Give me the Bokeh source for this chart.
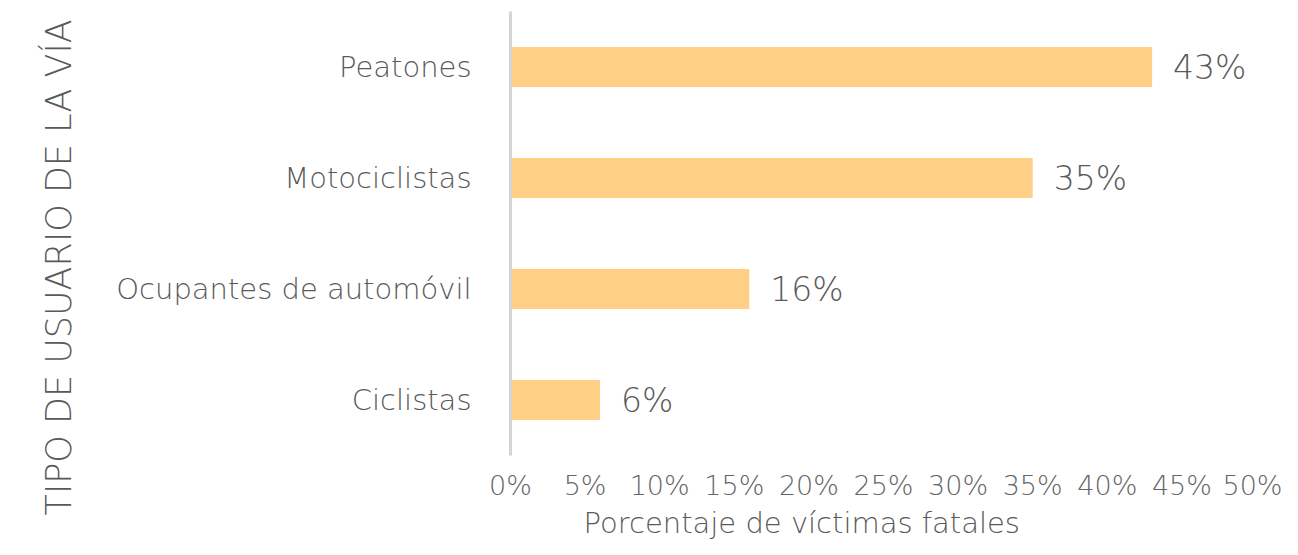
from bokeh.plotting import figure
from bokeh.models import FactorRange, Range1d, FixedTicker, Title, ColumnDataSource
from bokeh.embed import file_html
from bokeh.resources import INLINE
from bokeh.core.properties import value

categories = ["Peatones", "Motociclistas", "Ocupantes de automóvil", "Ciclistas"]
values = [43, 35, 16, 6]
value_labels = ["43%", "35%", "16%", "6%"]
tick_values = [0, 5, 10, 15, 20, 25, 30, 35, 40, 45, 50]
tick_labels = {t: f"{t}%" for t in tick_values}

FONT = "DejaVu Sans Light, DejaVu Sans ExtraLight, Lato Light, Lato"
BAR = "#FFCF86"
TXT = "#5a5a5a"

src = ColumnDataSource(dict(cat=categories, val=values, lab=value_labels))

p = figure(
    width=1282, height=539,
    y_range=FactorRange(*categories[::-1]),
    x_range=Range1d(0, 50),
    output_backend="svg", toolbar_location=None,
    min_border_left=510, min_border_right=26, min_border_top=11, min_border_bottom=0,
)
p.outline_line_color = None
p.grid.grid_line_color = None
p.background_fill_color = "white"
p.border_fill_color = "white"

p.hbar(y="cat", left=0, right="val", height=0.36, source=src,
       fill_color=BAR, line_color=None)
p.text(x="val", y="cat", text="lab", source=src, x_offset=21,
       text_font=value(FONT), text_font_size="33px", text_color=TXT,
       text_baseline="middle", text_align="left")

xa = p.xaxis[0]
xa.ticker = FixedTicker(ticks=tick_values)
xa.major_label_overrides = tick_labels
xa.axis_line_color = None
xa.major_tick_line_color = None
xa.minor_tick_line_color = None
xa.major_label_text_font = FONT
xa.major_label_text_font_size = "27px"
xa.major_label_text_color = "#666666"
xa.major_label_standoff = 8

ya = p.yaxis[0]
ya.axis_line_color = "#d4d4d4"
ya.axis_line_width = 3
ya.major_tick_line_color = None
ya.minor_tick_line_color = None
ya.major_label_text_font = FONT
ya.major_label_text_font_size = "29px"
ya.major_label_text_color = TXT
ya.major_label_standoff = 33

p.add_layout(Title(text="Porcentaje de víctimas fatales", align="left", offset=73,
                   text_font=FONT, text_font_size="29px", text_color=TXT,
                   text_font_style="normal", standoff=0), "below")
p.add_layout(Title(text="TIPO DE USUARIO DE LA VÍA", align="left", offset=-60,
                   text_font=FONT, text_font_size="35px", text_color=TXT,
                   text_font_style="normal", standoff=70), "left")

open("out.html", "w").write(file_html(p, INLINE))
